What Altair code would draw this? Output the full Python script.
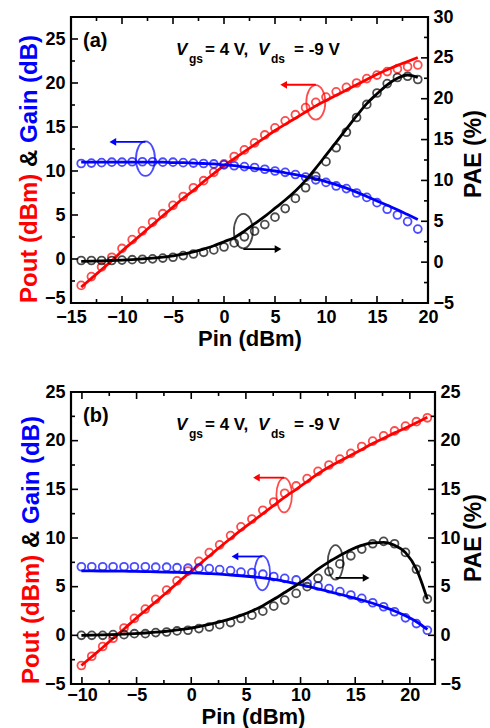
import altair as alt
import pandas as pd

FONT = "Liberation Sans"
RED, BLUE, BLACK = "#ff0000", "#0000ff", "#000000"

# ---------------- Panel (a) data ----------------
pin_a = list(range(-14, 20))
pout_a = [-3.0, -2.0, -0.9, 0.2, 1.2, 2.2, 3.2, 4.2, 5.15, 6.1, 7.1, 8.1, 8.9, 9.85, 10.8, 11.65,
          12.4, 13.2, 14.1, 14.9, 15.7, 16.4, 17.2, 17.8, 18.4, 19.0, 19.5, 20.0, 20.5, 20.9, 21.3, 21.6, 21.85, 22.05]
pout_a_fit = [-3.2, -2.2, -1.2, -0.2, 0.9, 1.9, 2.9, 3.9, 4.9, 5.9, 6.9, 7.8, 8.8, 9.7, 10.6, 11.4,
              12.2, 13.0, 13.8, 14.6, 15.3, 16.0, 16.7, 17.4, 18.0, 18.6, 19.2, 19.8, 20.4, 21.0, 21.5, 22.0, 22.45, 22.9]
gain_a = [10.85, 10.9, 10.95, 11.0, 11.0, 11.05, 11.05, 11.05, 11.0, 11.0, 10.95, 10.9, 10.85, 10.8, 10.7, 10.6,
          10.5, 10.4, 10.2, 10.0, 9.85, 9.6, 9.3, 9.0, 8.7, 8.3, 8.0, 7.5, 7.0, 6.4, 5.65, 5.0, 4.25, 3.4]
gain_a_fit = [11.0, 11.0, 11.0, 11.0, 11.0, 11.0, 11.0, 11.0, 11.0, 10.95, 10.95, 10.9, 10.85, 10.8, 10.7, 10.6,
              10.45, 10.3, 10.15, 10.0, 9.8, 9.6, 9.35, 9.1, 8.8, 8.45, 8.05, 7.6, 7.1, 6.6, 6.1, 5.6, 5.05, 4.5]
pae_a = [0.2, 0.2, 0.2, 0.2, 0.25, 0.3, 0.35, 0.4, 0.5, 0.6, 0.8, 1.0, 1.2, 1.5, 1.85, 2.35,
         3.1, 3.8, 4.6, 5.5, 6.55, 7.8, 9.1, 10.5, 12.3, 14.0, 15.9, 17.7, 19.3, 20.7, 21.85, 22.6, 22.75, 22.35]
pae_a_fit = [0.1, 0.12, 0.15, 0.2, 0.25, 0.32, 0.4, 0.5, 0.62, 0.78, 0.97, 1.25, 1.6, 2.0, 2.5, 3.0,
             3.8, 4.7, 5.6, 6.6, 7.6, 8.7, 10.0, 11.5, 13.1, 14.7, 16.3, 17.9, 19.4, 20.6, 21.7, 22.5, 22.9, 22.6]

# annotations (a): ellipse centre, arrow level and arrow tip (data units)
ann_a_left = pd.DataFrame({"x": [-7.7, 9.0], "y": [11.4, 17.8], "ay": [13.3, 19.8], "ax": [-10.9, 5.85],
                           "c": [BLUE, RED], "head": ["triangle-left", "triangle-left"]})
ann_a_right = pd.DataFrame({"x": [1.9], "y": [3.8], "ay": [1.6], "ax": [5.3], "c": [BLACK], "head": ["triangle-right"]})

# ---------------- Panel (b) data ----------------
pin_b = [-10.05, -9.1, -8.1, -7.15, -6.15, -5.2, -4.2, -3.25, -2.25, -1.3, -0.3, 0.7, 1.65, 2.6, 3.6, 4.55,
         5.55, 6.55, 7.55, 8.55, 9.6, 10.6, 11.6, 12.6, 13.6, 14.6, 15.6, 16.6, 17.6, 18.6, 19.6, 20.6, 21.6]
pout_b = [-3.1, -2.15, -1.15, -0.3, 0.75, 1.75, 2.7, 3.7, 4.65, 5.6, 6.6, 7.6, 8.5, 9.3, 10.25, 11.15,
          11.95, 12.85, 13.7, 14.6, 15.35, 16.1, 16.85, 17.5, 18.1, 18.7, 19.4, 19.95, 20.5, 21.0, 21.5, 21.95, 22.35]
pout_b_fit = [-3.1, -2.2, -1.25, -0.3, 0.65, 1.6, 2.55, 3.45, 4.4, 5.35, 6.3, 7.25, 8.15, 9.05, 9.95, 10.8,
              11.65, 12.5, 13.35, 14.2, 15.0, 15.8, 16.6, 17.3, 17.9, 18.5, 19.1, 19.7, 20.25, 20.8, 21.3, 21.85, 22.4]
gain_b = [7.05, 7.05, 7.05, 7.05, 7.05, 7.05, 7.05, 7.0, 7.0, 6.95, 6.9, 6.9, 6.85, 6.75, 6.65, 6.5,
          6.45, 6.28, 6.04, 5.86, 5.69, 5.35, 5.07, 4.8, 4.49, 4.14, 3.8, 3.35, 2.94, 2.42, 1.8, 1.21, 0.52]
gain_b_fit = [6.62, 6.62, 6.61, 6.6, 6.59, 6.57, 6.55, 6.53, 6.5, 6.47, 6.43, 6.39, 6.34, 6.28, 6.2, 6.12,
              6.02, 5.9, 5.75, 5.55, 5.3, 5.05, 4.78, 4.5, 4.22, 3.93, 3.63, 3.3, 2.93, 2.5, 2.0, 1.4, 0.6]
pae_b = [0.0, 0.0, 0.0, 0.07, 0.07, 0.17, 0.17, 0.28, 0.34, 0.45, 0.52, 0.69, 0.86, 1.1, 1.31, 1.73,
         2.07, 2.48, 3.0, 3.62, 4.31, 5.0, 5.86, 6.55, 7.34, 8.17, 8.86, 9.41, 9.66, 9.41, 8.52, 6.79, 3.73]
pae_b_fit = [0.0, 0.02, 0.05, 0.08, 0.12, 0.17, 0.24, 0.32, 0.42, 0.55, 0.7, 0.9, 1.12, 1.38, 1.7, 2.05,
             2.5, 3.05, 3.7, 4.4, 5.15, 5.9, 6.8, 7.55, 8.2, 8.8, 9.25, 9.5, 9.55, 9.25, 8.5, 6.8, 3.7]

ann_b_left = pd.DataFrame({"x": [8.5, 6.5], "y": [14.4, 6.4], "ay": [16.2, 8.1], "ax": [5.96, 4.0],
                           "c": [RED, BLUE], "head": ["triangle-left", "triangle-left"]})
ann_b_right = pd.DataFrame({"x": [13.2], "y": [7.5], "ay": [5.9], "ax": [16.0], "c": [BLACK], "head": ["triangle-right"]})

# tick values
xmaj_a = [-15, -10, -5, 0, 5, 10, 15, 20]
xmin_a = [-12.5, -7.5, -2.5, 2.5, 7.5, 12.5, 17.5]
lmaj_a = [-5, 0, 5, 10, 15, 20, 25]
lmin_a = [-2.5, 2.5, 7.5, 12.5, 17.5, 22.5]
rmaj_a = [-5, 0, 5, 10, 15, 20, 25, 30]
rmin_a = [-2.5, 2.5, 7.5, 12.5, 17.5, 22.5, 27.5]

xmaj_b = [-10, -5, 0, 5, 10, 15, 20]
xmin_b = [-7.5, -2.5, 2.5, 7.5, 12.5, 17.5]
ymaj_b = [-5, 0, 5, 10, 15, 20, 25]
ymin_b = [-2.5, 2.5, 7.5, 12.5, 17.5, 22.5]

one = pd.DataFrame({"k": [0]})


def txt(s, px, py, size, color=BLACK, italic=False, angle=0, align="left", baseline="alphabetic"):
    kw = dict(text=s, fontSize=size, fontWeight="bold", font=FONT, color=color, align=align, baseline=baseline)
    if italic:
        kw["fontStyle"] = "italic"
    if angle:
        kw["angle"] = angle
    return alt.Chart(one).mark_text(**kw).encode(x=alt.value(px), y=alt.value(py))


def panel(pin, pout, pout_fit, gain, gain_fit, pae, pae_fit, ann_l, ann_r,
          xdom, ldom, rdom, xmaj, xmin, lmaj, lmin, rmaj, rmin, W, H, tag, ell_rx,
          r_title_dx, r_title_y, title_x, x_lab_pad, x_title_pad, low_lab_shift):
    df = pd.DataFrame(dict(pin=pin, pout=pout, pout_fit=pout_fit, gain=gain, gain_fit=gain_fit,
                           pae=pae, pae_fit=pae_fit))
    xs = alt.Scale(domain=xdom, nice=False, zero=False)
    xaxis = alt.Axis(values=xmaj, title="Pin (dBm)", ticks=False, tickSize=0, domain=False, grid=False,
                     labelPadding=x_lab_pad, titlePadding=x_title_pad, labelFlush=False, labelOverlap=False,
                     format="d")
    ls = alt.Scale(domain=ldom, nice=False, zero=False)
    laxis = alt.Axis(values=lmaj, title=None, ticks=False, tickSize=0, domain=False, grid=False,
                     labelPadding=6, labelOverlap=False, labelFlush=False, format="d",
                     labelOffset={"condition": {"test": "datum.value == -5", "value": low_lab_shift}, "value": 0})
    rs = alt.Scale(domain=rdom, nice=False, zero=False)
    raxis = alt.Axis(orient="right", values=rmaj, title=None,
                     ticks=False, tickSize=0, domain=False, grid=False, labelPadding=5,
                     labelOverlap=False, labelFlush=False, format="d")

    def X(f):
        return alt.X(f"{f}:Q", scale=xs, axis=xaxis)

    def YL(f):
        return alt.Y(f"{f}:Q", scale=ls, axis=laxis)

    def YR(f):
        return alt.Y(f"{f}:Q", scale=rs, axis=raxis)

    base = alt.Chart(df)
    circ = dict(shape="circle", filled=False, size=62, strokeWidth=1.8)
    line = dict(strokeWidth=2.8, interpolate="monotone")
    ell = f"M0,-1A{ell_rx},1,0,1,1,0,1A{ell_rx},1,0,1,1,0,-1Z"

    def annot(ann, Y):
        a = alt.Chart(ann)
        e = a.mark_point(shape=ell, filled=False, size=1190, strokeWidth=1.8).encode(
            x=X("x"), y=Y("y"), color=alt.Color("c:N", scale=None))
        r = a.mark_rule(strokeWidth=1.8).encode(
            x=X("x"), x2=alt.X2("ax"), y=Y("ay"), color=alt.Color("c:N", scale=None))
        h = a.mark_point(filled=True, size=60, opacity=1).encode(
            x=X("ax"), y=Y("ay"), color=alt.Color("c:N", scale=None), shape=alt.Shape("head:N", scale=None))
        return [e, r, h]

    def xticks(vals, L):
        d = alt.Chart(pd.DataFrame({"v": vals}))
        return [d.mark_rule(color=BLACK, strokeWidth=1.6).encode(x=X("v"), y=alt.value(H), y2=alt.value(H - L)),
                d.mark_rule(color=BLACK, strokeWidth=1.6).encode(x=X("v"), y=alt.value(0), y2=alt.value(L))]

    def lticks(vals, L):
        d = alt.Chart(pd.DataFrame({"v": vals}))
        return [d.mark_rule(color=BLACK, strokeWidth=1.6).encode(y=YL("v"), x=alt.value(0), x2=alt.value(L))]

    def rticks(vals, L):
        d = alt.Chart(pd.DataFrame({"v": vals}))
        return [d.mark_rule(color=BLACK, strokeWidth=1.6).encode(y=YR("v"), x=alt.value(W), x2=alt.value(W - L))]

    left_layers = [
        base.mark_line(color=RED, **line).encode(x=X("pin"), y=YL("pout_fit")),
        base.mark_point(color=RED, **circ).encode(x=X("pin"), y=YL("pout")),
        base.mark_line(color=BLUE, **line).encode(x=X("pin"), y=YL("gain_fit")),
        base.mark_point(color=BLUE, **circ).encode(x=X("pin"), y=YL("gain")),
    ] + annot(ann_l, YL) + xticks(xmaj, 7) + xticks(xmin, 4) + lticks(lmaj, 7) + lticks(lmin, 4) + [
        txt(tag, 12, 30, 20),
        txt("V", 105, 38, 17, italic=True),
        txt("gs", 118, 46, 12),
        txt("= 4 V,", 134, 38, 17),
        txt("V", 187, 38, 17, italic=True),
        txt("ds", 200, 46, 12),
        txt("= -9 V", 223, 38, 17),
        txt("Pout (dBm)", title_x, H, 24, color=RED, angle=270, baseline="middle"),
        txt("&", title_x, H - 136, 24, color=BLACK, angle=270, baseline="middle"),
        txt("Gain (dB)", title_x, H - 160, 24, color=BLUE, angle=270, baseline="middle"),
        txt("PAE (%)", W + r_title_dx, r_title_y, 23, angle=270, align="center", baseline="middle"),
    ]
    right_layers = [
        base.mark_line(color=BLACK, **line).encode(x=X("pin"), y=YR("pae_fit")),
        base.mark_point(color=BLACK, **circ).encode(x=X("pin"), y=YR("pae")),
    ] + annot(ann_r, YR) + rticks(rmaj, 7) + rticks(rmin, 4)

    left = alt.layer(*left_layers)
    right = alt.layer(*right_layers)
    return alt.layer(left, right).resolve_scale(y="independent").properties(width=W, height=H)


pa = panel(pin_a, pout_a, pout_a_fit, gain_a, gain_a_fit, pae_a, pae_a_fit, ann_a_left, ann_a_right,
           [-15, 20], [-5, 27.5], [-5, 30], xmaj_a, xmin_a, lmaj_a, lmin_a, rmaj_a, rmin_a,
           357, 286, "(a)", 0.55, 46, 137, -41, 5, 2, -5)
pb = panel(pin_b, pout_b, pout_b_fit, gain_b, gain_b_fit, pae_b, pae_b_fit, ann_b_left, ann_b_right,
           [-11, 22.3], [-5, 25], [-5, 25], xmaj_b, xmin_b, ymaj_b, ymin_b, ymaj_b, ymin_b,
           364, 292, "(b)", 0.45, 39, 146, -39, 2, 2, 0)

chart = alt.vconcat(pa, pb, spacing=89, bounds="flush").properties(
    padding={"left": 16, "top": 6, "right": 2, "bottom": 2}
).configure_view(stroke=BLACK, strokeWidth=2.2).configure_axis(
    labelFont=FONT, labelFontSize=18, labelFontWeight="bold", labelColor=BLACK,
    titleFont=FONT, titleFontSize=22, titleFontWeight="bold", titleColor=BLACK
)

chart.save("out.html", embed_options={"renderer": "svg", "actions": False})
